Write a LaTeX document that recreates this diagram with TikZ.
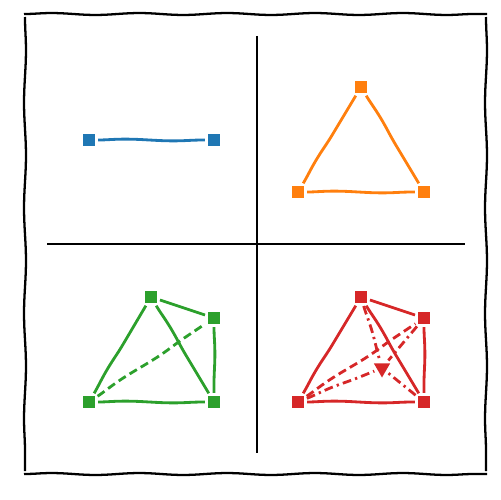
\documentclass[tikz,border=0pt]{standalone}
\usetikzlibrary{decorations.pathmorphing,shapes.geometric}
\definecolor{tblue}{HTML}{1F77B4}
\definecolor{torange}{HTML}{FF7F0E}
\definecolor{tgreen}{HTML}{2CA02C}
\definecolor{tred}{HTML}{D62728}
\tikzset{
  sq/.style={rectangle, fill=#1, draw=none, inner sep=0pt, minimum size=0.225cm},
  tri/.style={regular polygon, regular polygon sides=3, shape border rotate=180, fill=#1, draw=none, inner sep=0pt, minimum size=0.38cm},
  wob/.style={line width=1.6pt, decorate, decoration={snake, amplitude=0.5pt, segment length=55pt}, shorten <=1.8pt, shorten >=1.8pt},
  dsh/.style={dash pattern=on 4.8pt off 2.6pt},
  dshdot/.style={dash pattern=on 5pt off 2.4pt on 1.3pt off 2.4pt},
  frameside/.style={line width=1.3pt, decorate, decoration={snake, amplitude=0.55pt, segment length=50pt}},
  axisline/.style={line width=1.7pt}
}
\begin{document}
\begin{tikzpicture}[x=0.02cm, y=-0.02cm]
\useasboundingbox (0,0) rectangle (500,500);
% frame
\coordinate (f1) at (24,14);
\coordinate (f2) at (487,14);
\coordinate (f3) at (487,474);
\coordinate (f4) at (24,474);
\coordinate (f1b) at (25,17);
\coordinate (f4b) at (25,471);
\coordinate (f2b) at (486,17);
\coordinate (f3b) at (486,471);
\draw[frameside] (f1) -- (f2);
\draw[frameside] (f4) -- (f3);
\draw[frameside, decoration={segment length=60pt}] (f1b) -- (f4b);
\draw[frameside, decoration={segment length=60pt}] (f2b) -- (f3b);
% axes
\coordinate (vt) at (257,36);
\coordinate (vb) at (257,453);
\coordinate (hl) at (47,244);
\coordinate (hr) at (465,244);
\draw[axisline] (vt) -- (vb);
\draw[axisline] (hl) -- (hr);
% blue
\node[sq=tblue] (b1) at (89,140) {};
\node[sq=tblue] (b2) at (214,140) {};
\draw[wob, tblue] (b1) -- (b2);
% orange
\node[sq=torange] (o1) at (361,87) {};
\node[sq=torange] (o2) at (298,192) {};
\node[sq=torange] (o3) at (424,192) {};
\draw[wob, torange] (o2) -- (o1);
\draw[wob, torange] (o1) -- (o3);
\draw[wob, torange] (o2) -- (o3);
% green
\node[sq=tgreen] (g1) at (151,297) {};
\node[sq=tgreen] (g2) at (214,318) {};
\node[sq=tgreen] (g3) at (89,402) {};
\node[sq=tgreen] (g4) at (214,402) {};
\draw[wob, tgreen] (g3) -- (g1);
\draw[wob, tgreen] (g1) -- (g4);
\draw[wob, tgreen] (g1) -- (g2);
\draw[wob, tgreen] (g2) -- (g4);
\draw[wob, tgreen] (g3) -- (g4);
\draw[wob, tgreen, dsh] (g3) -- (g2);
% red
\node[sq=tred] (r1) at (361,297) {};
\node[sq=tred] (r2) at (424,318) {};
\node[sq=tred] (r3) at (298,402) {};
\node[sq=tred] (r4) at (424,402) {};
\node[tri=tred] (rc) at (382,368) {};
\draw[wob, tred] (r3) -- (r1);
\draw[wob, tred] (r1) -- (r4);
\draw[wob, tred] (r1) -- (r2);
\draw[wob, tred] (r2) -- (r4);
\draw[wob, tred] (r3) -- (r4);
\draw[wob, tred, dsh] (r3) -- (r2);
\draw[wob, tred, dshdot] (r1) -- (rc);
\draw[wob, tred, dshdot] (r2) -- (rc);
\draw[wob, tred, dshdot] (r3) -- (rc);
\draw[wob, tred, dshdot] (r4) -- (rc);
\end{tikzpicture}
\end{document}
